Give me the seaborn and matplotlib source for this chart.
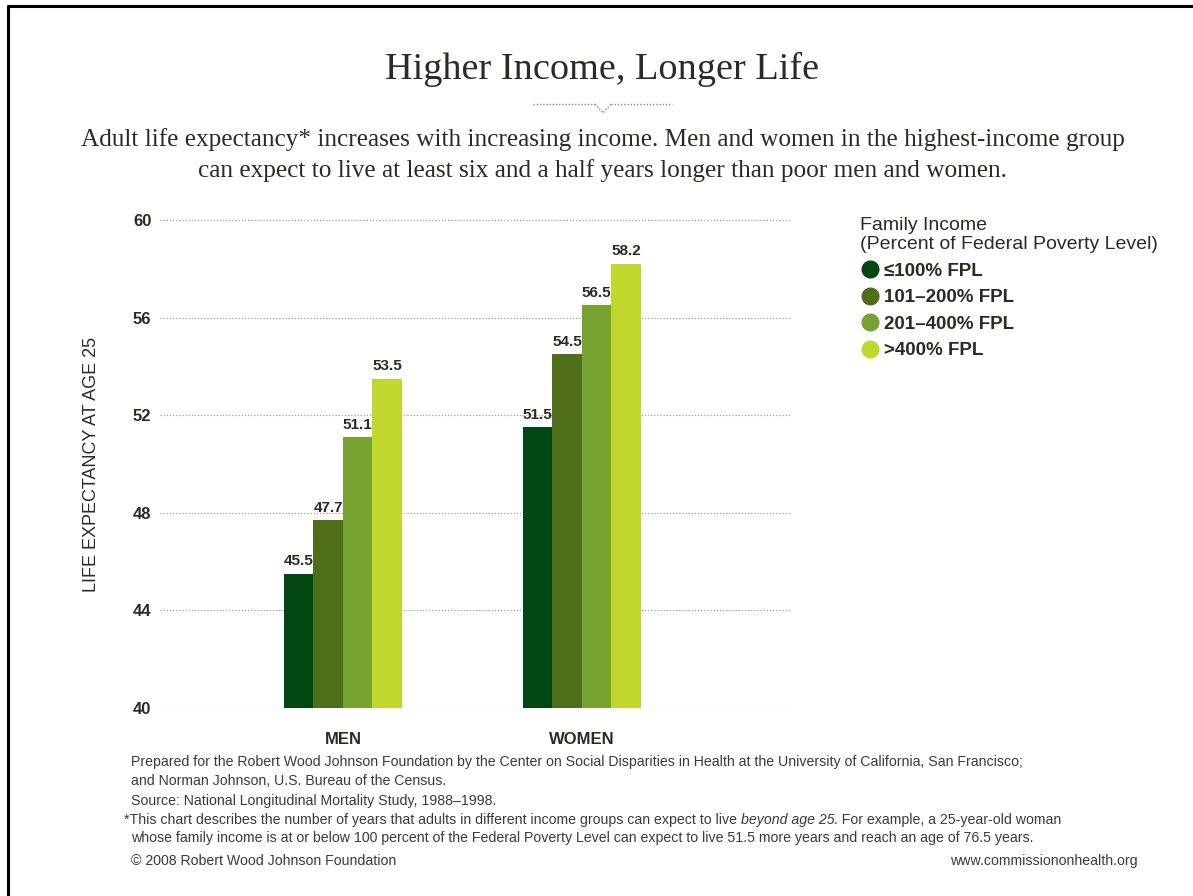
import numpy as np
import pandas as pd
import matplotlib
matplotlib.use("Agg")
import matplotlib.pyplot as plt
from matplotlib.lines import Line2D
import seaborn as sns

# data
groups = ["MEN", "WOMEN"]
incomes = ["\u2264100% FPL", "101\u2013200% FPL", "201\u2013400% FPL", ">400% FPL"]
men = [45.5, 47.7, 51.1, 53.5]
women = [51.5, 54.5, 56.5, 58.2]
colors = ["#004712", "#4e6e1a", "#78a22f", "#c2d72e"]
yticks = [40, 44, 48, 52, 56, 60]

df = pd.DataFrame({
    "group": [g for g in groups for _ in incomes],
    "income": incomes * 2,
    "value": men + women,
})

sns.set_theme(style="white")
plt.rcParams["font.family"] = ["Liberation Sans", "DejaVu Sans"]
txt = "#2b2b25"

fig = plt.figure(figsize=(11.93, 8.96), dpi=100)
ax = fig.add_axes([0.134, 0.2098, 0.528, 0.5446])

sns.barplot(data=df, x="group", y="value", hue="income", order=groups,
            hue_order=incomes, palette=colors, width=0.495, gap=0,
            saturation=1, ax=ax, legend=False, edgecolor="none")

ax.set_ylim(40, 60)
ax.set_xlim(-0.766, 1.87)
ax.set_yticks(yticks)
ax.set_yticklabels([str(t) for t in yticks], fontsize=12, fontweight="bold", color=txt)
ax.tick_params(axis="y", length=0, pad=6)
ax.tick_params(axis="x", length=0, pad=17)
for lbl in ax.get_xticklabels():
    lbl.set_fontsize(12)
    lbl.set_fontweight("bold")
    lbl.set_color(txt)
for t in yticks:
    ax.axhline(t, color="#a0a0a0", lw=0.9, ls=(0, (1, 1.5)), zorder=0)
for s in ax.spines.values():
    s.set_visible(False)
ax.set_xlabel("")
ax.set_ylabel("LIFE EXPECTANCY AT AGE 25", fontsize=13, color=txt, labelpad=24,
              fontweight="medium")

for cont in ax.containers:
    ax.bar_label(cont, fmt="%.1f", padding=4, fontsize=11, fontweight="bold", color=txt)

# legend
handles = [Line2D([], [], marker="o", ls="", markersize=12, color=c) for c in colors]
leg = fig.legend(handles, incomes, loc="upper left", bbox_to_anchor=(0.707, 0.777),
                 frameon=False, prop={"weight": "bold", "size": 13.5},
                 title="Family Income\n(Percent of Federal Poverty Level)",
                 title_fontproperties={"size": 14}, alignment="left",
                 handletextpad=0.25, labelspacing=0.5, handlelength=1.0)
leg.get_title().set_color(txt)
for t in leg.get_texts():
    t.set_color(txt)

# title and subtitle
fig.text(0.505, 0.923, "Higher Income, Longer Life", ha="center", va="center",
         family=["Liberation Serif", "DejaVu Serif"], fontsize=27.5, color=txt)
sub = ("Adult life expectancy* increases with increasing income. Men and women in the highest-income group\n"
       "can expect to live at least six and a half years longer than poor men and women.")
fig.text(0.505, 0.827, sub, ha="center", va="center", linespacing=1.5,
         family=["Liberation Serif", "DejaVu Serif"], fontsize=18.2, color=txt)

# dotted ornament under title
orn = dict(color="#888888", lw=1, ls=(0, (1, 1.3)))
fig.add_artist(Line2D([533 / 1193, 595 / 1193], [1 - 104 / 896] * 2, transform=fig.transFigure, **orn))
fig.add_artist(Line2D([595 / 1193, 603 / 1193, 611 / 1193], [1 - 104 / 896, 1 - 113 / 896, 1 - 104 / 896],
                      transform=fig.transFigure, **orn))
fig.add_artist(Line2D([611 / 1193, 672 / 1193], [1 - 104 / 896] * 2, transform=fig.transFigure, **orn))

# frame lines at top and left
fig.add_artist(Line2D([8 / 1193, 1], [1 - 6 / 896] * 2, transform=fig.transFigure, color="black", lw=2.2))
fig.add_artist(Line2D([8 / 1193] * 2, [1 - 6 / 896, 0], transform=fig.transFigure, color="black", lw=2.2))

# footnotes
foot = dict(fontsize=10.2, color="#3a3a3a", va="center")
fx = 131 / 1193
fig.text(fx, 1 - 762 / 896,
         "Prepared for the Robert Wood Johnson Foundation by the Center on Social Disparities in Health at the University of California, San Francisco;", **foot)
fig.text(fx, 1 - 781 / 896, "and Norman Johnson, U.S. Bureau of the Census.", **foot)
fig.text(fx, 1 - 801 / 896, "Source: National Longitudinal Mortality Study, 1988\u20131998.", **foot)

# footnote line with an italic part
renderer = fig.canvas.get_renderer()
x = 124 / 1193
y = 1 - 820 / 896
for piece, style in [("*This chart describes the number of years that adults in different income groups can expect to live ", "normal"),
                     ("beyond age 25", "italic"),
                     (". For example, a 25-year-old woman", "normal")]:
    t = fig.text(x, y, piece, style=style, **foot)
    bb = t.get_window_extent(renderer=renderer)
    x += bb.width / fig.bbox.width
fig.text(fx, 1 - 838 / 896,
         "whose family income is at or below 100 percent of the Federal Poverty Level can expect to live 51.5 more years and reach an age of 76.5 years.",
         **foot)
fig.text(fx, 1 - 861 / 896, "\u00a9 2008 Robert Wood Johnson Foundation", **foot)
fig.text(1138 / 1193, 1 - 861 / 896, "www.commissiononhealth.org", ha="right", **foot)

fig.savefig("out.png", dpi=100, facecolor="white")
